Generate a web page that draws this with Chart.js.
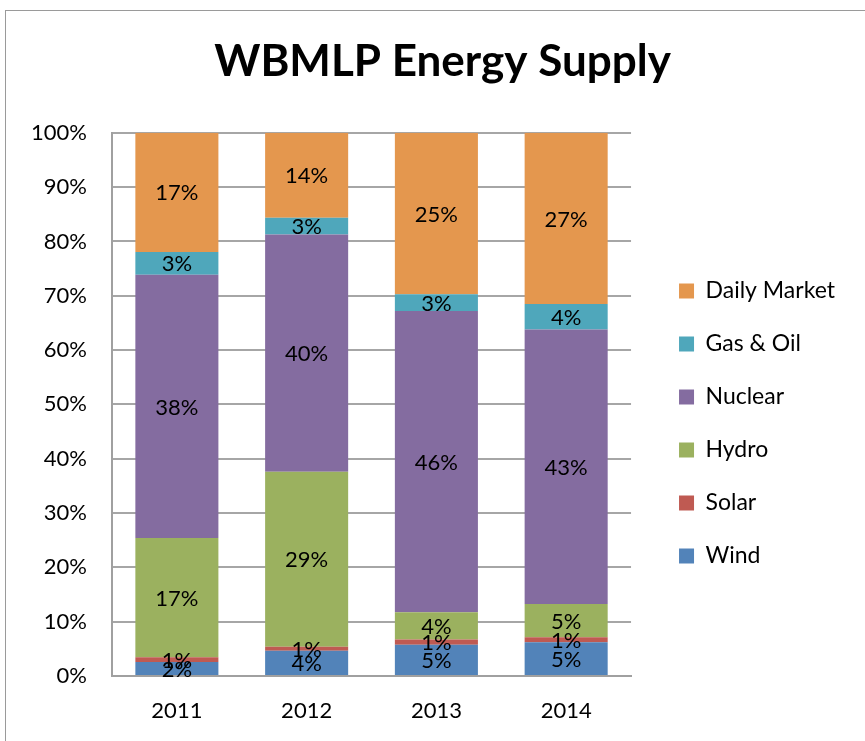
<!DOCTYPE html>
<html>
<head>
<meta charset="utf-8">
<script src="https://cdn.jsdelivr.net/npm/chart.js@4"></script>
<style>
  body { margin: 0; background: #fff; }
  #frame { position: absolute; left: 5px; top: 10px; width: 900px; height: 800px;
           border-left: 1px solid #9a9a9a; border-top: 1px solid #9a9a9a; }
  #wrap { position: absolute; left: 0; top: 0; width: 865px; height: 741px; }
</style>
</head>
<body>
<div id="frame"></div>
<div id="wrap"><canvas id="theChart" width="865" height="741"></canvas></div>
<script>
'use strict';

let years = ['2011', '2012', '2013', '2014'];
let yTicks = [0, 10, 20, 30, 40, 50, 60, 70, 80, 90, 100];

// raw supply values, labels show these rounded; bars are normalised to 100%
let wind = [2.0, 4.2, 4.8, 5.3];
let solar = [0.7, 0.7, 0.8, 0.8];
let hydro = [17.1, 29.2, 4.2, 5.2];
let nuclear = [37.8, 39.6, 46.3, 43.1];
let gasOil = [3.3, 2.8, 2.6, 4.0];
let dailyMarket = [17.1, 14.2, 24.8, 26.9];

let seriesNames = ['Wind', 'Solar', 'Hydro', 'Nuclear', 'Gas & Oil', 'Daily Market'];
let seriesValues = [wind, solar, hydro, nuclear, gasOil, dailyMarket];
let seriesColors = ['#5283b9', '#bf5a52', '#9bb15f', '#846ca0', '#4fa7bb', '#e4974e'];

let totals = years.map(function (y, i) {
    let sum = 0;
    for (let s = 0; s < seriesValues.length; s++) {
        sum += seriesValues[s][i];
    }
    return sum;
});

let datasets = [];
for (let s = 0; s < seriesNames.length; s++) {
    datasets.push({
        label: seriesNames[s],
        data: seriesValues[s].map(function (v, i) { return v / totals[i] * 100; }),
        raw: seriesValues[s],
        backgroundColor: seriesColors[s],
        categoryPercentage: 0.64,
        barPercentage: 1
    });
}

let font = 'Lato, "Open Sans", sans-serif';

// draws the rounded raw value in the middle of each segment
let segmentLabels = {
    id: 'segmentLabels',
    afterDatasetsDraw(chart) {
        let ctx = chart.ctx;
        ctx.save();
        ctx.font = '22px ' + font;
        ctx.fillStyle = '#000';
        ctx.textAlign = 'center';
        ctx.textBaseline = 'middle';
        chart.data.datasets.forEach(function (ds, d) {
            chart.getDatasetMeta(d).data.forEach(function (bar, i) {
                let y = (bar.y + bar.base) / 2;
                ctx.fillText(Math.round(ds.raw[i]) + '%', bar.x, y + 1);
            });
        });
        ctx.restore();
    }
};

// move the legend right of the plot and lower, and centre the title like the original
let boxShift = {
    id: 'boxShift',
    afterLayout(chart) {
        chart.legend.left += 18;
        chart.legend.right += 18;
        chart.legend.top += 62;
        chart.legend.bottom += 62;
        chart.titleBlock.left += 29;
        chart.titleBlock.right += 29;
    }
};

let ctx = document.getElementById('theChart').getContext('2d');
let theChart = new Chart(ctx, {
    type: 'bar',
    data: {
        labels: years,
        datasets: datasets
    },
    plugins: [segmentLabels, boxShift],
    options: {
        responsive: false,
        animation: false,
        layout: { padding: { left: 0, right: 38, top: 0, bottom: 18 } },
        plugins: {
            title: {
                display: true,
                text: 'WBMLP Energy Supply',
                color: '#000',
                font: { family: font, size: 44, weight: 'bold' },
                padding: { top: 35, bottom: 45 }
            },
            legend: {
                position: 'right',
                reverse: true,
                labels: {
                    color: '#000',
                    font: { family: font, size: 23 },
                    boxWidth: 15,
                    boxHeight: 15,
                    padding: 30
                }
            },
            tooltip: { enabled: false }
        },
        scales: {
            x: {
                stacked: true,
                afterFit(scale) { scale.height = 47; },
                grid: { display: false, drawTicks: false },
                border: { color: '#a0a0a0', width: 2 },
                ticks: { color: '#000', font: { family: font, size: 22 }, padding: 22 }
            },
            y: {
                stacked: true,
                min: 0,
                max: 100,
                afterFit(scale) { scale.width = 112; },
                afterBuildTicks(scale) { scale.ticks = yTicks.map(function (v) { return { value: v }; }); },
                grid: { color: '#a6a6a6', lineWidth: 2, drawTicks: false },
                border: { color: '#a0a0a0', width: 2 },
                ticks: {
                    color: '#000',
                    font: { family: font, size: 22 },
                    padding: 25,
                    callback: function (v) { return v + '%'; }
                }
            }
        }
    }
});
</script>
</body>
</html>
